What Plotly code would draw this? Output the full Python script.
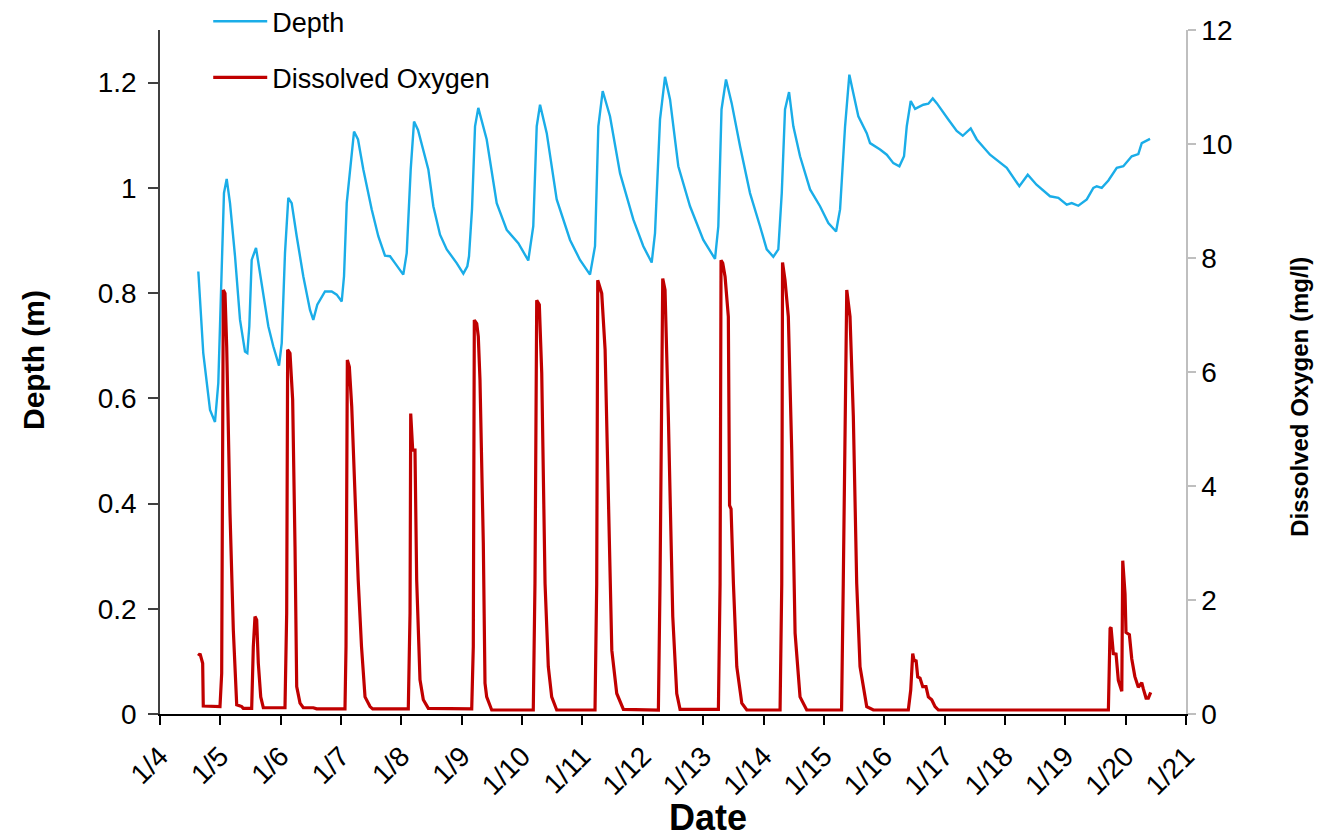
import plotly.graph_objects as go
from datetime import datetime, timedelta

# Depth series: day of January (fractional) and depth (m)
depth_day = [4.635, 4.717, 4.829, 4.911, 4.966, 5.022, 5.060, 5.105, 5.160, 5.243, 5.326, 5.408, 5.447,
             5.480, 5.519, 5.591, 5.685, 5.795, 5.877, 5.972, 6.017, 6.071, 6.126, 6.182, 6.265, 6.374,
             6.485, 6.540, 6.606, 6.734, 6.845, 6.928, 7.011, 7.049, 7.094, 7.148, 7.215, 7.281, 7.369,
             7.508, 7.617, 7.728, 7.811, 7.894, 8.031, 8.088, 8.154, 8.209, 8.275, 8.446, 8.529, 8.640,
             8.751, 8.916, 9.026, 9.092, 9.120, 9.170, 9.220, 9.274, 9.413, 9.579, 9.745, 9.937, 10.102,
             10.185, 10.242, 10.297, 10.408, 10.573, 10.794, 10.959, 11.125, 11.208, 11.263, 11.335,
             11.456, 11.622, 11.842, 12.008, 12.147, 12.202, 12.285, 12.368, 12.451, 12.588, 12.782,
             13.002, 13.196, 13.251, 13.304, 13.378, 13.472, 13.611, 13.776, 13.942, 14.053, 14.162,
             14.245, 14.302, 14.356, 14.423, 14.494, 14.605, 14.771, 14.936, 15.074, 15.202, 15.268,
             15.351, 15.422, 15.488, 15.571, 15.710, 15.765, 15.931, 16.042, 16.151, 16.251, 16.328,
             16.373, 16.439, 16.511, 16.648, 16.731, 16.804, 16.870, 17.062, 17.201, 17.301, 17.433,
             17.533, 17.753, 18.030, 18.239, 18.378, 18.523, 18.747, 18.885, 19.024, 19.107, 19.216,
             19.356, 19.465, 19.521, 19.604, 19.714, 19.853, 19.962, 20.101, 20.210, 20.267, 20.404]
depth_m = [0.841, 0.686, 0.578, 0.555, 0.629, 0.844, 0.990, 1.017, 0.971, 0.870, 0.749, 0.689, 0.686,
           0.737, 0.863, 0.886, 0.819, 0.737, 0.699, 0.662, 0.705, 0.876, 0.981, 0.971, 0.908, 0.832,
           0.768, 0.749, 0.778, 0.803, 0.803, 0.797, 0.784, 0.832, 0.971, 1.035, 1.107, 1.092, 1.035,
           0.959, 0.908, 0.871, 0.870, 0.857, 0.835, 0.876, 1.035, 1.126, 1.110, 1.035, 0.965, 0.911,
           0.883, 0.857, 0.837, 0.851, 0.870, 0.960, 1.117, 1.152, 1.092, 0.971, 0.920, 0.895, 0.862,
           0.927, 1.117, 1.158, 1.104, 0.978, 0.901, 0.863, 0.835, 0.889, 1.117, 1.184,
           1.136, 1.028, 0.940, 0.889, 0.858, 0.914, 1.130, 1.211, 1.168, 1.041, 0.965,
           0.901, 0.865, 0.927, 1.149, 1.206, 1.161, 1.079, 0.990, 0.927, 0.883, 0.869,
           0.883, 0.990, 1.149, 1.182, 1.117, 1.060, 0.997, 0.965, 0.933, 0.917, 0.959,
           1.117, 1.215, 1.180, 1.136, 1.104, 1.085, 1.073, 1.063, 1.047, 1.041, 1.060,
           1.117, 1.165, 1.150, 1.158, 1.160, 1.170, 1.161, 1.130, 1.108, 1.099, 1.113,
           1.092, 1.063, 1.038, 1.003, 1.025, 1.006, 0.984, 0.981, 0.968, 0.971, 0.966,
           0.978, 1.000, 1.003, 1.000, 1.014, 1.038, 1.041, 1.060, 1.064, 1.085, 1.093]

# Dissolved oxygen series: day of January (fractional) and DO (mg/l)
do_day = [4.635, 4.663, 4.707, 4.717, 4.994, 5.022, 5.049, 5.077, 5.105, 5.160, 5.215, 5.271, 5.354,
          5.380, 5.519, 5.546, 5.574, 5.602, 5.629, 5.669, 5.712, 6.071, 6.099, 6.115, 6.154, 6.198,
          6.237, 6.265, 6.320, 6.374, 6.540, 6.596, 7.065, 7.082, 7.104, 7.137, 7.177, 7.231, 7.284,
          7.339, 7.397, 7.480, 7.524, 8.114, 8.143, 8.154, 8.187, 8.225, 8.253, 8.308, 8.363, 8.446,
          9.165, 9.191, 9.208, 9.248, 9.274, 9.302, 9.357, 9.385, 9.413, 9.496, 10.185, 10.213,
          10.242, 10.285, 10.325, 10.380, 10.434, 10.490, 10.573, 11.208, 11.236, 11.253, 11.291,
          11.319, 11.375, 11.429, 11.486, 11.568, 11.678, 12.258, 12.285, 12.330, 12.368, 12.423,
          12.496, 12.562, 12.617, 13.252, 13.280, 13.296, 13.324, 13.363, 13.417, 13.437, 13.462,
          13.501, 13.557, 13.640, 13.723, 14.274, 14.302, 14.315, 14.356, 14.411, 14.467, 14.523,
          14.605, 14.716, 15.293, 15.321, 15.379, 15.433, 15.488, 15.544, 15.599, 15.710, 15.820,
          16.399, 16.439, 16.472, 16.498, 16.527, 16.555, 16.593, 16.638, 16.692, 16.731, 16.787,
          16.842, 16.897, 19.714, 19.742, 19.758, 19.796, 19.841, 19.879, 19.936, 19.952, 19.990,
          20.006, 20.062, 20.101, 20.152, 20.210, 20.267, 20.293, 20.338, 20.376, 20.415]
do_mgl = [1.02, 1.06, 0.89, 0.14, 0.13, 0.71, 7.44, 7.38, 6.44, 3.52, 1.47, 0.16, 0.13,
          0.10, 0.10, 1.18, 1.71, 1.65, 0.89, 0.30, 0.11, 0.11, 1.77, 6.39, 6.33, 5.51,
          2.94, 0.48, 0.19, 0.11, 0.11, 0.09, 0.09, 1.18, 6.21, 6.09, 5.39, 3.81, 2.35,
          1.18, 0.30, 0.13, 0.09, 0.09, 1.77, 5.27, 4.63, 4.63, 2.35, 0.60, 0.25, 0.10,
          0.09, 1.18, 6.91, 6.85, 6.62, 5.86, 3.00, 0.54, 0.30, 0.07, 0.07, 2.29,
          7.26, 7.18, 5.98, 2.29, 0.83, 0.30, 0.07, 0.07, 2.29, 7.61, 7.50,
          7.38, 6.39, 4.05, 1.12, 0.36, 0.08, 0.07, 2.29, 7.64, 7.44, 5.22,
          1.71, 0.36, 0.08, 0.08, 2.29, 7.96, 7.91, 7.67, 6.97, 3.66, 3.60,
          2.29, 0.83, 0.19, 0.07, 0.07, 2.29, 7.92, 7.61, 6.97, 4.63, 1.42,
          0.30, 0.07, 0.07, 2.29, 7.44, 6.97, 5.22, 2.29, 0.83, 0.13, 0.07,
          0.07, 0.42, 1.06, 0.92, 0.95, 0.65, 0.63, 0.48, 0.48, 0.30, 0.25,
          0.13, 0.07, 0.07, 1.50, 1.52, 1.06, 1.05, 0.59, 0.40, 2.69, 2.11,
          1.43, 1.39, 0.97, 0.66, 0.47, 0.55, 0.44, 0.28, 0.28, 0.38]

depth_ticks = [0, 0.2, 0.4, 0.6, 0.8, 1.0, 1.2]
depth_tick_labels = ["0", "0.2", "0.4", "0.6", "0.8", "1", "1.2"]
do_ticks = [0, 2, 4, 6, 8, 10, 12]

BASE = datetime(2016, 1, 1)


def to_dt(d):
    return BASE + timedelta(days=d - 1)


FONT = "Arial, Liberation Sans, sans-serif"

fig = go.Figure()
fig.add_trace(go.Scatter(x=[to_dt(d) for d in depth_day], y=depth_m, mode="lines",
                         name="Depth", line=dict(color="#1AADE8", width=2.4),
                         legendgroup="a"))
fig.add_trace(go.Scatter(x=[to_dt(d) for d in do_day], y=do_mgl, mode="lines",
                         name="Dissolved Oxygen", line=dict(color="#C00000", width=3.2),
                         yaxis="y2", legendgroup="b"))

fig.update_layout(
    width=1326, height=838,
    # page body has an 8px default margin, so margins are offset to place the plot area
    margin=dict(l=152, r=148, t=22, b=132, autoexpand=False),
    paper_bgcolor="white", plot_bgcolor="white",
    font=dict(family=FONT, color="black"),
    showlegend=True,
    legend=dict(x=0.047, y=1.048, xanchor="left", yanchor="top",
                font=dict(size=27, family=FONT), tracegroupgap=18,
                itemwidth=54, bgcolor="rgba(0,0,0,0)"),
    xaxis=dict(
        type="date", automargin=False,
        range=[to_dt(4), to_dt(21)],
        dtick=86400000, tick0=to_dt(4),
        tickformat="%-m/%-d", tickangle=-45,
        tickfont=dict(size=28, family=FONT),
        ticks="outside", ticklen=9, tickcolor="black", tickwidth=1.5,
        ticklabelstandoff=4,
        showline=True, linecolor="black", linewidth=1.5,
        showgrid=False, zeroline=False,
    ),
    yaxis=dict(
        automargin=False,
        range=[0, 1.3], tickvals=depth_ticks, ticktext=depth_tick_labels,
        tickfont=dict(size=28, family=FONT),
        ticks="outside", ticklen=10, tickcolor="#404040", tickwidth=1.5,
        ticklabelstandoff=6,
        showline=True, linecolor="#404040", linewidth=1.5,
        showgrid=False, zeroline=False,
    ),
    yaxis2=dict(
        automargin=False,
        range=[0, 12], tickvals=do_ticks,
        tickfont=dict(size=28, family=FONT),
        overlaying="y", side="right",
        ticks="outside", ticklen=8, tickcolor="#BFBFBF", tickwidth=1.5,
        showline=True, linecolor="#BFBFBF", linewidth=1.5,
        showgrid=False, zeroline=False,
    ),
    annotations=[
        dict(text="<b>Date</b>", xref="paper", yref="paper", x=0.534, y=-0.152,
             xanchor="center", yanchor="middle", showarrow=False,
             font=dict(size=36, family=FONT)),
        dict(text="<b>Depth (m)</b>", xref="paper", yref="paper", x=-0.1238, y=0.5175,
             xanchor="center", yanchor="middle", textangle=-90, showarrow=False,
             font=dict(size=30, family=FONT)),
        dict(text="<b>Dissolved Oxygen (mg/l)</b>", xref="paper", yref="paper", x=1.111, y=0.4635,
             xanchor="center", yanchor="middle", textangle=-90, showarrow=False,
             font=dict(size=24, family=FONT)),
    ],
)

fig.write_html("out.html")
